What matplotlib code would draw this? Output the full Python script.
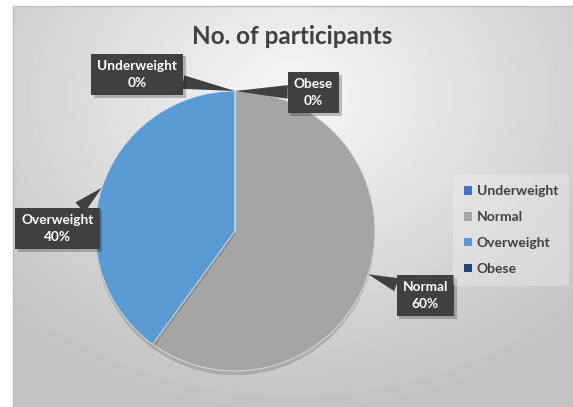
import numpy as np
import matplotlib.pyplot as plt
import matplotlib.patheffects as pe

categories = ['Underweight', 'Normal', 'Overweight', 'Obese']
percent = [0, 60, 40, 0]
colors = ['#4472c4', '#a5a5a5', '#5b9bd5', '#264478']

# label box centres (data units, pie radius = 1)
label_pos = {'Underweight': (-0.70, 1.12), 'Normal': (1.36, -0.46),
             'Overweight': (-1.27, 0.02), 'Obese': (0.56, 0.99)}

plt.rcParams['font.family'] = ['Lato', 'DejaVu Sans']

W, H = 573, 407
fig = plt.figure(figsize=(W / 100, H / 100), dpi=100)
fig.patch.set_facecolor('white')

# chart area background (radial gradient)
bg = fig.add_axes([13 / W, 0, 1 - 13 / W, 1 - 6 / H])
yy, xx = np.mgrid[0:401, 0:560]
d = np.sqrt(((xx - 280) / 420.0) ** 2 + ((yy - 90) / 330.0) ** 2)
shade = np.clip(0.97 - 0.22 * d, 0.76, 0.97)
bg.imshow(shade, cmap='gray', vmin=0, vmax=1, aspect='auto', interpolation='bilinear')
bg.set_axis_off()
fig.add_artist(plt.Line2D([13 / W, 13 / W, 1], [0, 1 - 6 / H, 1 - 6 / H],
                          transform=fig.transFigure, color='#bfbfbf', lw=1))

# pie axes: centre at (235, 231) px, radius 140 px
ax = fig.add_axes([0, 0, 1, 1])
ax.patch.set_alpha(0)
r = 140.0
cx, cy = 235.0, H - 231.0
wedges, _ = ax.pie(percent, colors=colors, startangle=90, counterclock=False,
                   radius=1, wedgeprops=dict(linewidth=0.6, edgecolor='#e0e0e0'))
for w in wedges:
    w.set_path_effects([pe.SimplePatchShadow(offset=(0, -3), alpha=0.2), pe.Normal()])
ax.set_aspect('auto')
ax.set_xlim(-cx / r, (W - cx) / r)
ax.set_ylim(-cy / r, (H - cy) / r)
ax.set_axis_off()

# callout labels
total = sum(percent)
for w, cat, p in zip(wedges, categories, percent):
    mid = np.deg2rad((w.theta1 + w.theta2) / 2)
    pt = (np.cos(mid), np.sin(mid))
    ann = ax.annotate(f'{cat}\n{p / total:.0%}', xy=pt, xytext=label_pos[cat],
                      ha='center', va='center', color='white', fontsize=9.8,
                      fontweight='bold', linespacing=1.5,
                      bbox=dict(boxstyle='square,pad=0.45', fc='#404040', ec='none'),
                      arrowprops=dict(arrowstyle='wedge,tail_width=1.0,shrink_factor=0.5',
                                      fc='#404040', ec='none', connectionstyle='arc3',
                                      shrinkA=0, shrinkB=0))
    ann.get_bbox_patch().set_path_effects([pe.SimplePatchShadow(offset=(2, -2), alpha=0.25),
                                           pe.Normal()])

fig.text(292 / W, 1 - 37 / H, 'No. of participants', ha='center', va='center',
         fontsize=17.5, fontweight='bold', color='#404040')

leg = fig.legend(wedges, categories, loc='center', bbox_to_anchor=(511 / W, 1 - 230 / H),
                 frameon=True, handlelength=0.6, handleheight=0.6,
                 handletextpad=0.3, labelspacing=1.0, borderpad=0.8,
                 prop=dict(size=10, weight='bold'))
leg.get_frame().set_facecolor('#f2f2f2')
leg.get_frame().set_alpha(0.35)
leg.get_frame().set_edgecolor('none')
for h in leg.legend_handles:
    h.set_path_effects([])
    h.set_edgecolor('none')
for t in leg.get_texts():
    t.set_color('#404040')

fig.savefig('out.png', dpi=100)
